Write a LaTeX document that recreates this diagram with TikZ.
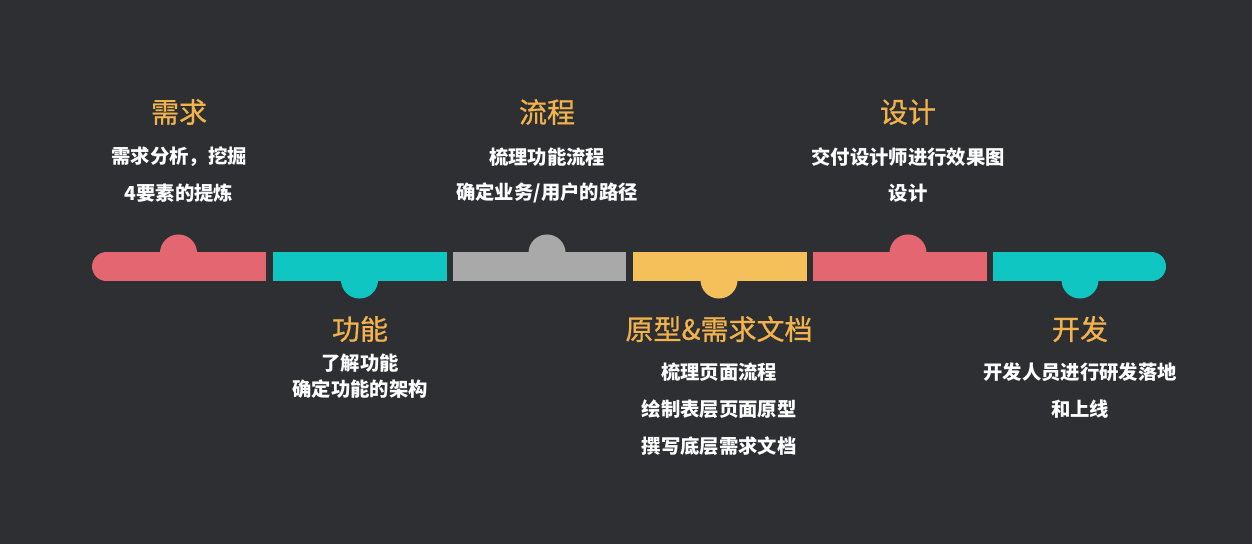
\documentclass[tikz,border=0pt]{standalone}
\usepackage{fontspec}
\newfontfamily\cjk{Noto Sans CJK SC}
\newfontfamily\cjkt[FakeBold=0.8]{Noto Sans CJK SC}
\definecolor{bg}{HTML}{2D2F33}
\definecolor{cred}{HTML}{E36671}
\definecolor{cteal}{HTML}{0FC6C2}
\definecolor{cgray}{HTML}{A9A9A9}
\definecolor{cyel}{HTML}{F5BF5A}
\definecolor{ctitle}{HTML}{F2B24C}
\begin{document}
\begin{tikzpicture}[x=0.75pt,y=-0.75pt,
  title/.style={text=ctitle,font=\cjkt\fontsize{21}{24}\selectfont,inner sep=0pt,anchor=center},
  body/.style={text=white,font=\cjk\bfseries\fontsize{14.5}{17}\selectfont,inner sep=0pt,anchor=center}]
\fill[bg] (0,0) rectangle (1252,544);
\useasboundingbox (0,0) rectangle (1252,544);
% segment 1 (red, rounded left end, bump up)
\fill[cred] (106.5,266.5) circle[radius=10.875pt];
\fill[cred] (178.5,253) circle[radius=13.9pt];
\fill[cred] (106.5,252) rectangle (266,281);
% segment 2 (teal, bump down)
\fill[cteal] (359.5,280) circle[radius=13.9pt];
\fill[cteal] (273,252) rectangle (447,281);
% segment 3 (gray, bump up)
\fill[cgray] (547,253) circle[radius=13.9pt];
\fill[cgray] (453,252) rectangle (626,281);
% segment 4 (yellow, bump down)
\fill[cyel] (719,280) circle[radius=13.9pt];
\fill[cyel] (633,252) rectangle (807,281);
% segment 5 (red, bump up)
\fill[cred] (908,253) circle[radius=13.9pt];
\fill[cred] (813,252) rectangle (987,281);
% segment 6 (teal, rounded right end, bump down)
\fill[cteal] (1151.5,266.5) circle[radius=10.875pt];
\fill[cteal] (1080,280) circle[radius=13.9pt];
\fill[cteal] (993,252) rectangle (1151.5,281);
% texts
\node[title] (t1) at (179,112) {需求};
\node[body] (b1a) at (179,157) {需求分析，挖掘};
\node[body] (b1b) at (179,193) {4要素的提炼};
\node[title] (t3) at (547,112) {流程};
\node[body] (b3a) at (547,157) {梳理功能流程};
\node[body] (b3b) at (547,193) {确定业务/用户的路径};
\node[title] (t5) at (908,112) {设计};
\node[body] (b5a) at (908,157) {交付设计师进行效果图};
\node[body] (b5b) at (908,193) {设计};
\node[title] (t2) at (360,329) {功能};
\node[body] (b2a) at (360,363) {了解功能};
\node[body] (b2b) at (360,389) {确定功能的架构};
\node[title] (t4) at (719,329) {原型\&需求文档};
\node[body] (b4a) at (719,372) {梳理页面流程};
\node[body] (b4b) at (719,409) {绘制表层页面原型};
\node[body] (b4c) at (719,446) {撰写底层需求文档};
\node[title] (t6) at (1080,329) {开发};
\node[body] (b6a) at (1080,372) {开发人员进行研发落地};
\node[body] (b6b) at (1080,409) {和上线};
\end{tikzpicture}
\end{document}
